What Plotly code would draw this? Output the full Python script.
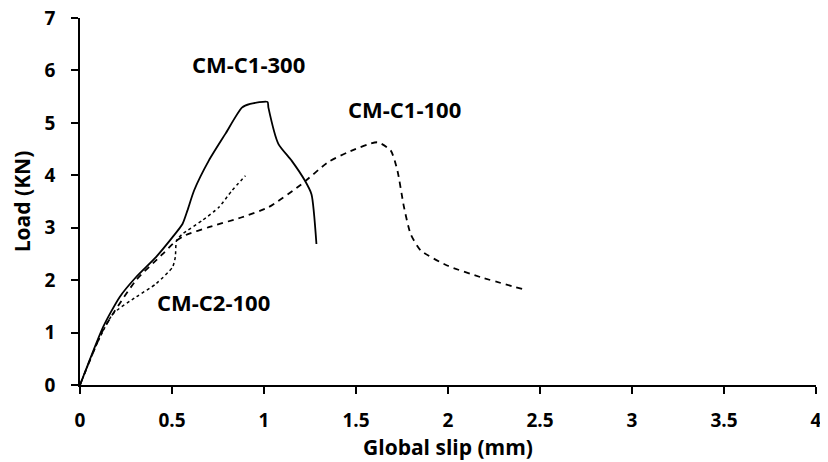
import plotly.graph_objects as go

# CM-C1-300 (solid)
c1_300_x = [0, 0.126, 0.216, 0.305, 0.413, 0.503, 0.557, 0.584, 0.62, 0.70, 0.79, 0.88, 0.925, 1.019, 1.024, 1.078, 1.15, 1.222, 1.258, 1.285]
c1_300_y = [0, 1.11, 1.68, 2.06, 2.44, 2.82, 3.07, 3.33, 3.71, 4.28, 4.79, 5.29, 5.36, 5.40, 5.29, 4.60, 4.28, 3.90, 3.64, 2.69]

# CM-C1-100 (dashed)
c1_100_x = [0, 0.126, 0.305, 0.45, 0.52, 0.575, 0.70, 0.88, 1.024, 1.204, 1.348, 1.456, 1.617, 1.689, 1.725, 1.761, 1.797, 1.851, 1.995, 2.174, 2.426]
c1_100_y = [0, 1.05, 2.0, 2.50, 2.74, 2.86, 3.01, 3.20, 3.39, 3.83, 4.25, 4.44, 4.63, 4.47, 4.09, 3.39, 2.88, 2.57, 2.28, 2.06, 1.81]

# CM-C2-100 (dotted)
c2_100_x = [0, 0.10, 0.18, 0.305, 0.413, 0.503, 0.518, 0.525, 0.557, 0.665, 0.755, 0.826, 0.899]
c2_100_y = [0, 0.85, 1.36, 1.68, 1.93, 2.25, 2.44, 2.76, 2.88, 3.14, 3.39, 3.71, 3.99]

labels = ["CM-C1-300", "CM-C1-100", "CM-C2-100"]
label_x = [0.918, 1.765, 0.723]
label_y = [6.12, 5.27, 1.58]

x_ticks = [0, 0.5, 1, 1.5, 2, 2.5, 3, 3.5, 4]
x_tick_text = ["0", "0.5", "1", "1.5", "2", "2.5", "3", "3.5", "4"]
y_ticks = [0, 1, 2, 3, 4, 5, 6, 7]

FONT = "Open Sans"

fig = go.Figure()
fig.add_trace(go.Scatter(x=c1_300_x, y=c1_300_y, mode="lines", name=labels[0],
                         line=dict(color="black", width=1.8, shape="spline", smoothing=0.6)))
fig.add_trace(go.Scatter(x=c1_100_x, y=c1_100_y, mode="lines", name=labels[1],
                         line=dict(color="black", width=1.8, dash="6px,5px", shape="spline", smoothing=0.6)))
fig.add_trace(go.Scatter(x=c2_100_x, y=c2_100_y, mode="lines", name=labels[2],
                         line=dict(color="black", width=1.5, dash="dot", shape="spline", smoothing=0.6)))

for t, x, y in zip(labels, label_x, label_y):
    fig.add_annotation(x=x, y=y, text=f"<b>{t}</b>", showarrow=False,
                       font=dict(family=FONT, size=22, color="black"))

fig.update_layout(
    width=818, height=454,
    margin=dict(l=72, r=10, t=10, b=77, autoexpand=False),
    paper_bgcolor="white", plot_bgcolor="white",
    showlegend=False,
    font=dict(family=FONT, size=19, color="black"),
)
fig.update_xaxes(
    range=[0, 4], tickvals=x_ticks, ticktext=[f"<b>{t}</b>" for t in x_tick_text],
    showline=True, linecolor="black", linewidth=1.6,
    ticks="outside", ticklen=7, tickwidth=1.6, tickcolor="black",
    showgrid=False, zeroline=False, automargin=False, ticklabelstandoff=10,
    ticklabeloverflow="allow",
    title=dict(text="<b>Global slip (mm)</b>", font=dict(family=FONT, size=21), standoff=4),
    tickfont=dict(family=FONT, size=19),
)
fig.update_yaxes(
    range=[0, 7], tickvals=y_ticks, ticktext=[f"<b>{t}</b>" for t in y_ticks],
    showline=True, linecolor="black", linewidth=1.6,
    ticks="outside", ticklen=7, tickwidth=1.6, tickcolor="black",
    showgrid=False, zeroline=False, automargin=False, ticklabelstandoff=12,
    ticklabeloverflow="allow",
    title=dict(text="<b>Load (KN)</b>", font=dict(family=FONT, size=21), standoff=16),
    tickfont=dict(family=FONT, size=19),
)

fig.write_html("out.html")
